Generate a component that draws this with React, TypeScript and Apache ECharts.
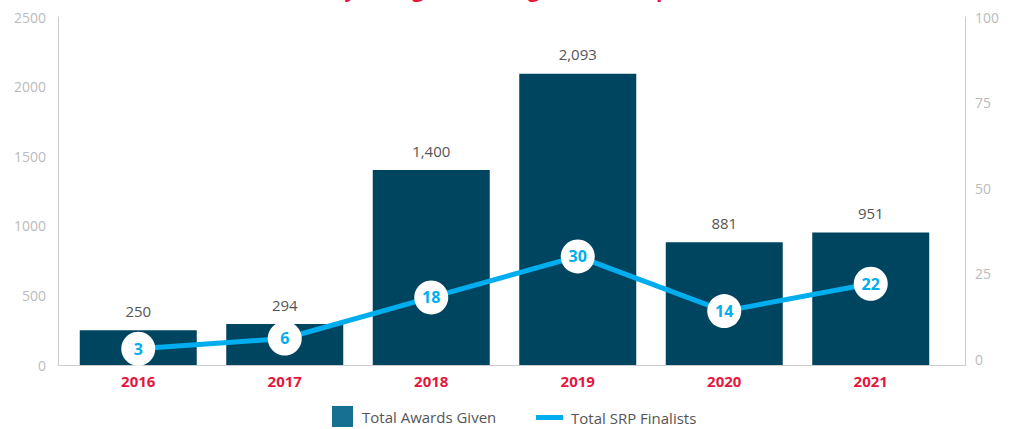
import React, { useEffect, useRef } from "react";
import * as echarts from "echarts";

const TITLE = "Safety Recognition Program Participation";
const years = ["2016", "2017", "2018", "2019", "2020", "2021"];
const awardsGiven = [250, 294, 1400, 2093, 881, 951];
const srpFinalists = [3, 6, 18, 30, 14, 22];
const leftTicks = [0, 500, 1000, 1500, 2000, 2500];
const rightTicks = [0, 25, 50, 75, 100];

const FONT = "'Open Sans', 'Noto Sans', sans-serif";

export default function App() {
  const ref = useRef<HTMLDivElement>(null);
  useEffect(() => {
    if (!ref.current) return;
    const chart = echarts.init(ref.current, undefined, { renderer: "svg" });
    chart.setOption({
      animation: false,
      textStyle: { fontFamily: FONT },
      title: {
        text: TITLE,
        left: "center",
        top: -27,
        textStyle: { color: "#e4173e", fontSize: 21, fontWeight: "bold", fontFamily: FONT },
      },
      legend: [
        {
          left: 327,
          top: 401,
          itemWidth: 21,
          itemHeight: 21,
          icon: "rect",
          textStyle: { color: "#555", fontSize: 15, fontFamily: FONT, padding: [0, 0, 0, 4] },
          data: [{ name: "Total Awards Given", itemStyle: { color: "#17708f" } }],
        },
        {
          left: 531,
          top: 405,
          itemWidth: 27,
          itemHeight: 5,
          icon: "rect",
          textStyle: { color: "#555", fontSize: 15, fontFamily: FONT, padding: [0, 0, 0, 3] },
          data: [{ name: "Total SRP Finalists", itemStyle: { color: "#00aeef" } }],
        },
      ],
      grid: [
        { left: 65, right: 71, top: 17, bottom: 64 },
        { left: 58, right: 49, top: 17, bottom: 64 },
        { left: 65, right: 71, top: 17, bottom: 70 },
      ],
      xAxis: [
        {
          type: "category",
          gridIndex: 0,
          data: years,
          axisLine: { show: false },
          axisTick: { show: false },
          axisLabel: { color: "#e4173e", fontSize: 15, fontWeight: "bold", margin: 8, fontFamily: FONT },
        },
        {
          type: "category",
          gridIndex: 1,
          data: years,
          axisLine: { show: true, lineStyle: { color: "#cccccc", width: 1 } },
          axisTick: { show: false },
          axisLabel: { show: false },
        },
        {
          type: "category",
          gridIndex: 2,
          data: years,
          show: false,
        },
      ],
      yAxis: [
        {
          type: "value",
          gridIndex: 0,
          min: 0,
          max: 2500,
          interval: 500,
          offset: 7,
          splitLine: { show: false },
          axisLine: { show: true, lineStyle: { color: "#cccccc" } },
          axisTick: { show: false },
          axisLabel: {
            color: "#bbbbbb",
            fontSize: 14,
            margin: 12,
            fontFamily: FONT,
            formatter: (v: number) => (leftTicks.includes(v) ? String(v) : ""),
          },
        },
        {
          type: "value",
          gridIndex: 0,
          position: "right",
          min: 0,
          max: 100,
          interval: 25,
          offset: 21,
          splitLine: { show: false },
          axisLine: { show: true, lineStyle: { color: "#cccccc" } },
          axisTick: { show: false },
          axisLabel: { show: false },
        },
        {
          type: "value",
          gridIndex: 1,
          show: false,
        },
        {
          type: "value",
          gridIndex: 2,
          position: "right",
          min: 0,
          max: 100,
          interval: 25,
          offset: 21,
          splitLine: { show: false },
          axisLine: { show: false },
          axisTick: { show: false },
          axisLabel: {
            color: "#bbbbbb",
            fontSize: 14,
            margin: 10,
            fontFamily: FONT,
            formatter: (v: number) => (rightTicks.includes(v) ? String(v) : ""),
          },
        },
      ],
      series: [
        {
          name: "Total Awards Given",
          type: "bar",
          xAxisIndex: 0,
          yAxisIndex: 0,
          data: awardsGiven,
          barWidth: 117,
          itemStyle: { color: "#004560" },
          label: {
            show: true,
            position: "top",
            distance: 12,
            color: "#555555",
            fontSize: 15,
            fontFamily: FONT,
            formatter: (p: any) => Number(p.value).toLocaleString("en-US"),
          },
        },
        {
          name: "Total SRP Finalists",
          type: "line",
          xAxisIndex: 2,
          yAxisIndex: 3,
          data: srpFinalists,
          z: 5,
          symbol: "circle",
          symbolSize: 34,
          lineStyle: { color: "#00aeef", width: 5 },
          itemStyle: { color: "#ffffff", borderWidth: 0 },
          label: {
            show: true,
            position: "inside",
            color: "#00aeef",
            fontSize: 16,
            fontWeight: "bold",
            fontFamily: FONT,
          },
        },
      ],
    });
    return () => chart.dispose();
  }, []);
  return <div ref={ref} style={{ width: 1015, height: 429, position: "absolute", left: 0, top: 0 }} />;
}
